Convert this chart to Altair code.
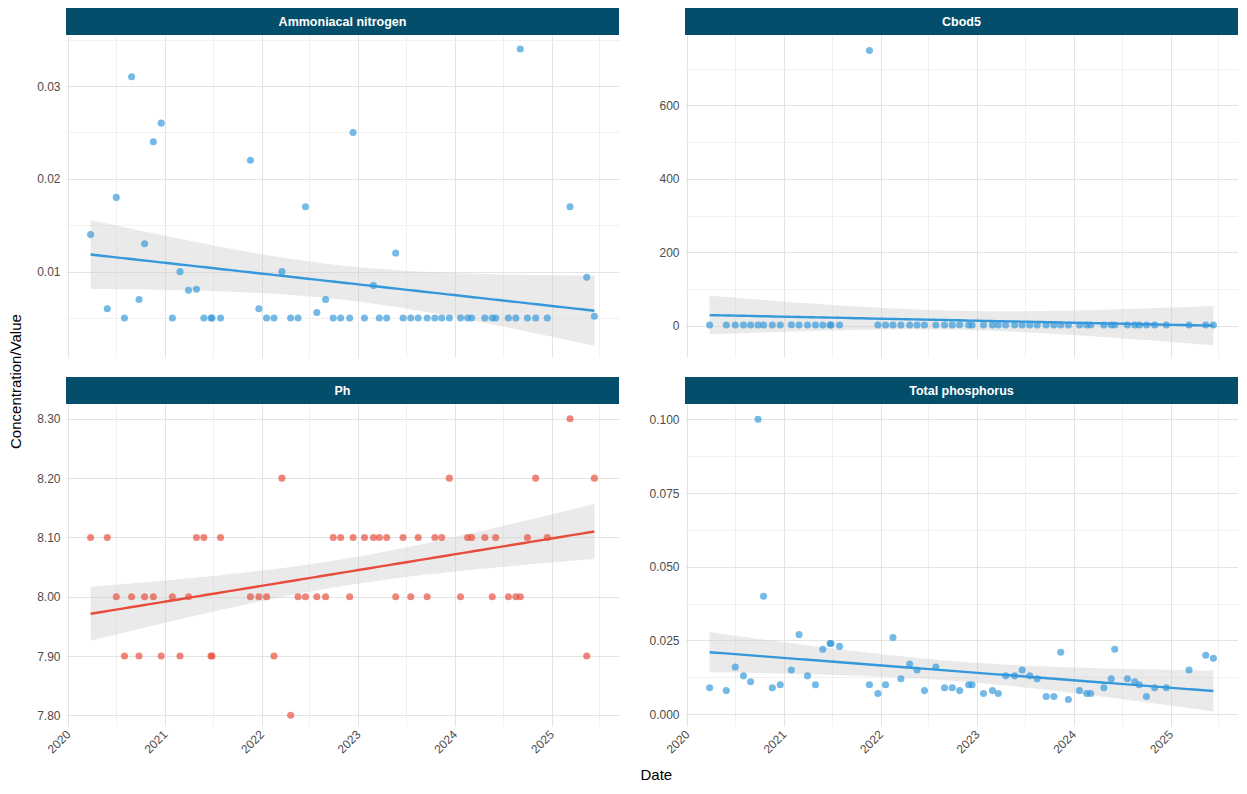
import altair as alt
import pandas as pd
import numpy as np

# ---------------- data ----------------
dates = [
    "2020-03-26", "2020-05-28", "2020-07-01", "2020-08-01", "2020-08-28", "2020-09-25",
    "2020-10-16", "2020-11-18", "2020-12-18", "2021-01-29", "2021-02-27", "2021-03-31",
    "2021-04-30", "2021-05-28", "2021-06-24", "2021-06-28", "2021-07-30", "2021-11-20",
    "2021-12-22", "2022-01-20", "2022-02-17", "2022-03-19", "2022-04-21", "2022-05-19",
    "2022-06-16", "2022-07-29", "2022-08-31", "2022-09-29", "2022-10-27", "2022-11-30",
    "2022-12-13", "2023-01-25", "2023-02-28", "2023-03-22", "2023-04-19", "2023-05-23",
    "2023-06-20", "2023-07-19", "2023-08-16", "2023-09-19", "2023-10-18", "2023-11-13",
    "2023-12-12", "2024-01-23", "2024-02-19", "2024-03-05", "2024-04-24", "2024-05-22",
    "2024-06-04", "2024-07-22", "2024-08-19", "2024-09-05", "2024-10-02", "2024-11-02",
    "2024-12-16", "2025-03-12", "2025-05-14", "2025-06-12",
]

ammoniacal = [
    0.014, 0.006, 0.018, 0.005, 0.031, 0.007, 0.013, 0.024, 0.026, 0.005, 0.010, 0.008,
    0.0081, 0.005, 0.005, 0.005, 0.005, 0.022, 0.006, 0.005, 0.005, 0.010, 0.005, 0.005,
    0.017, 0.0056, 0.007, 0.005, 0.005, 0.005, 0.025, 0.005, 0.0085, 0.005, 0.005, 0.012,
    0.005, 0.005, 0.005, 0.005, 0.005, 0.005, 0.005, 0.005, 0.005, 0.005, 0.005, 0.005,
    0.005, 0.005, 0.005, 0.034, 0.005, 0.005, 0.005, 0.017, 0.0094, 0.0052,
]

cbod5 = [
    2, 2, 2, 2, 2, 2, 2, 2, 2, 3, 2, 2,
    2, 2, 2, 2, 2, 750, 2, 2, 2, 2, 2, 2,
    2, 2, 2, 2, 3, 2, 2, 2, 2, 2, 2, 2,
    2, 2, 2, 2, 2, 2, 2, 2, 2, 2, 2, 2,
    2, 2, 2, 2, 2, 2, 2, 2, 2, 2,
]

ph = [
    8.1, 8.1, 8.0, 7.9, 8.0, 7.9, 8.0, 8.0, 7.9, 8.0, 7.9, 8.0,
    8.1, 8.1, 7.9, 7.9, 8.1, 8.0, 8.0, 8.0, 7.9, 8.2, 7.8, 8.0,
    8.0, 8.0, 8.0, 8.1, 8.1, 8.0, 8.1, 8.1, 8.1, 8.1, 8.1, 8.0,
    8.1, 8.0, 8.1, 8.0, 8.1, 8.1, 8.2, 8.0, 8.1, 8.1, 8.1, 8.0,
    8.1, 8.0, 8.0, 8.0, 8.1, 8.2, 8.1, 8.3, 7.9, 8.2,
]

total_phosphorus = [
    0.009, 0.008, 0.016, 0.013, 0.011, 0.100, 0.040, 0.009, 0.010, 0.015, 0.027, 0.013,
    0.010, 0.022, 0.024, 0.024, 0.023, 0.010, 0.007, 0.010, 0.026, 0.012, 0.017, 0.015,
    0.008, 0.016, 0.009, 0.009, 0.008, 0.010, 0.010, 0.007, 0.008, 0.007, 0.013, 0.013,
    0.015, 0.013, 0.012, 0.006, 0.006, 0.021, 0.005, 0.008, 0.007, 0.007, 0.009, 0.012,
    0.022, 0.012, 0.011, 0.010, 0.006, 0.009, 0.009, 0.015, 0.020, 0.019,
]

panel_names = ["Ammoniacal nitrogen", "Cbod5", "Ph", "Total phosphorus"]

# ---------------- style ----------------
BLUE = "#3498db"
RED = "#e74c3c"
HEADER = "#034e6b"
FONT = "Liberation Sans"
LABEL_COLOR = "#4d4d4d"
W = 553
H = 322
HDR = 27

X_DOMAIN = [
    {"year": 2019, "month": 12, "date": 24, "utc": True},
    {"year": 2025, "month": 9, "date": 13, "utc": True},
]
x_ticks = []
for yr in range(2020, 2026):
    x_ticks.append({"year": yr, "month": 1, "date": 1, "utc": True})
    x_ticks.append({"year": yr, "month": 7, "date": 1, "utc": True})
X_MAJOR_TEST = "utcFormat(datum.value, '%m') == '01'"

AXIS_COMMON = dict(
    labelFont=FONT, labelFontSize=12, labelColor=LABEL_COLOR,
    ticks=False, domain=False, labelPadding=6, gridWidth=1, title=None,
)


def t_quantile(df):
    z = 1.959964
    return (z + (z**3 + z) / (4 * df)
            + (5 * z**5 + 16 * z**3 + 3 * z) / (96 * df**2))


def fit_frame(values):
    t = pd.to_datetime(pd.Series(dates))
    t0 = t.min()
    x = (t - t0).dt.total_seconds().values / 86400.0
    y = np.asarray(values, dtype=float)
    n = len(x)
    b, a = np.polyfit(x, y, 1)
    resid = y - (a + b * x)
    s = np.sqrt(np.sum(resid**2) / (n - 2))
    xbar = x.mean()
    sxx = np.sum((x - xbar) ** 2)
    xs = np.linspace(x.min(), x.max(), 80)
    fit = a + b * xs
    se = s * np.sqrt(1.0 / n + (xs - xbar) ** 2 / sxx)
    tq = t_quantile(n - 2)
    ts = t0 + pd.to_timedelta(xs, unit="D")
    return pd.DataFrame({
        "Date": ts.strftime("%Y-%m-%dT%H:%M:%SZ"),
        "fit": fit,
        "lo": fit - tq * se,
        "hi": fit + tq * se,
    })


def panel(name, values, color, domain, major, minor, fmt, bottom):
    df = pd.DataFrame({"Date": dates, "Value": values})
    fdf = fit_frame(values)

    major_test = " || ".join(f"datum.value == {v}" for v in major)
    yaxis = alt.Axis(
        values=sorted(major + minor),
        labelExpr=f"({major_test}) ? format(datum.value, '{fmt}') : ''",
        gridColor={"condition": {"test": major_test, "value": "#e3e3e3"},
                   "value": "#f1f1f1"},
        **AXIS_COMMON,
    )
    xgrid = {"condition": {"test": X_MAJOR_TEST, "value": "#e3e3e3"},
             "value": "#f1f1f1"}
    if bottom:
        xaxis = alt.Axis(
            values=x_ticks,
            labelExpr=f"{X_MAJOR_TEST} ? utcFormat(datum.value, '%Y') : ''",
            labelAngle=-45, labelAlign="right", labelBaseline="middle",
            gridColor=xgrid, labelOverlap=False,
            **AXIS_COMMON,
        )
    else:
        xaxis = alt.Axis(values=x_ticks, labels=False, gridColor=xgrid,
                         **AXIS_COMMON)

    xscale = alt.Scale(type="utc", domain=X_DOMAIN)
    yscale = alt.Scale(domain=domain, nice=False, zero=False)

    band = alt.Chart(fdf).mark_area(color="#cccccc", opacity=0.42).encode(
        x=alt.X("Date:T", scale=xscale, axis=xaxis),
        y=alt.Y("lo:Q", scale=yscale, axis=yaxis),
        y2="hi:Q",
    )
    pts = alt.Chart(df).mark_circle(size=50, opacity=0.68, color=color).encode(
        x=alt.X("Date:T", scale=xscale),
        y=alt.Y("Value:Q", scale=yscale),
    )
    line = alt.Chart(fdf).mark_line(color=color, strokeWidth=2.4).encode(
        x=alt.X("Date:T", scale=xscale),
        y=alt.Y("fit:Q", scale=yscale),
    )
    lab = pd.DataFrame({"label": [name]})
    hdr = alt.Chart(lab).mark_rect(color=HEADER).encode(
        x=alt.value(0), x2=alt.value(W), y=alt.value(-HDR), y2=alt.value(0)
    )
    txt = alt.Chart(lab).mark_text(
        color="white", fontWeight="bold", fontSize=12.5, font=FONT,
        baseline="middle", align="center",
    ).encode(text="label:N", x=alt.value(W / 2), y=alt.value(-HDR / 2))
    return alt.layer(band, pts, line, hdr, txt).properties(width=W, height=H)


a = panel(panel_names[0], ammoniacal, BLUE, [0.0008, 0.0355],
          [0.01, 0.02, 0.03], [0.005, 0.015, 0.025, 0.035], ".2f", False)
b = panel(panel_names[1], cbod5, BLUE, [-85, 792],
          [0, 200, 400, 600], [100, 300, 500, 700], "d", False)
c = panel(panel_names[2], ph, RED, [7.782, 8.325],
          [7.8, 7.9, 8.0, 8.1, 8.2, 8.3], [7.85, 7.95, 8.05, 8.15, 8.25], ".2f", True)
d = panel(panel_names[3], total_phosphorus, BLUE, [-0.004, 0.1052],
          [0.0, 0.025, 0.05, 0.075, 0.1], [0.0125, 0.0375, 0.0625, 0.0875], ".3f", True)

grid = alt.concat(a, b, c, d, columns=2, spacing={"row": 20, "column": 29}).properties(
    title=alt.TitleParams("Concentration/Value", orient="left", anchor="middle",
                          fontSize=15, fontWeight="normal", font=FONT,
                          color="black", offset=13)
)

chart = alt.vconcat(grid).properties(
    padding=0,
    title=alt.TitleParams("Date", orient="bottom", anchor="middle",
                          fontSize=15, fontWeight="normal", font=FONT,
                          color="black", offset=13, dx=33)
).configure_view(stroke=None)

chart.save("out.html", embed_options={"renderer": "svg", "actions": False})
